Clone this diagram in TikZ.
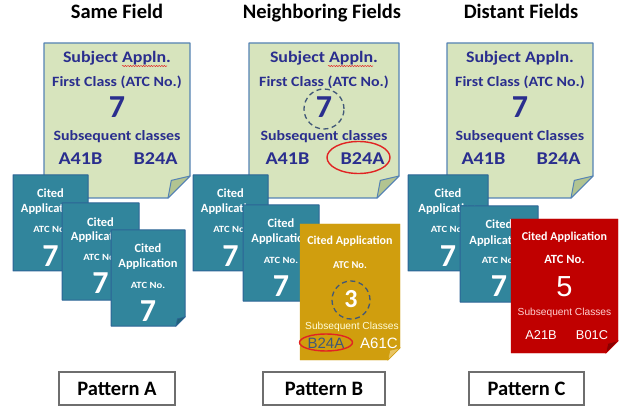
\documentclass[tikz,border=0pt]{standalone}
\usepackage{fontspec}
\setmainfont{Carlito}
\newfontfamily\widefont{Carlito}[FakeStretch=1.12]
\newfontfamily\arialfont{Liberation Sans}
\usetikzlibrary{shapes.geometric,decorations.pathmorphing}
\definecolor{subjfill}{RGB}{215,228,189}
\definecolor{subjline}{RGB}{84,130,180}
\definecolor{subjflap}{RGB}{178,196,145}
\definecolor{navy}{RGB}{42,46,142}
\definecolor{citefill}{RGB}{49,133,156}
\definecolor{citeline}{RGB}{44,100,150}
\definecolor{citeflap}{RGB}{32,98,122}
\definecolor{goldfill}{RGB}{208,158,14}
\definecolor{goldflap}{RGB}{232,196,100}
\definecolor{redfill}{RGB}{192,0,0}
\definecolor{redflap}{RGB}{135,0,0}
\definecolor{ringred}{RGB}{225,35,35}
\definecolor{ringblue}{RGB}{65,88,120}
\definecolor{boxline}{RGB}{110,110,110}
% sheet with a turned-down corner: x1,y1,x2,y2,fold,body,flap
\newcommand{\docsheet}[7]{%
  \draw[#6] (#1,#2) -- (#3,#2) -- (#3,#4-#5) -- (#3-#5,#4) -- (#1,#4) -- cycle;
  \draw[#7] (#3,#4-#5) -- (#3-0.85*#5,#4-0.8*#5) -- (#3-#5,#4) -- cycle;}
\begin{document}
\begin{tikzpicture}[x=1pt,y=-1pt,
  title/.style={font=\fontsize{20.5}{20.5}\selectfont\bfseries,anchor=base},
  subj/.style={fill=subjfill,draw=subjline,line width=1.3pt,line join=round},
  subj flap/.style={fill=subjflap,draw=subjline,line width=1pt,line join=round},
  subj head/.style={font=\widefont\fontsize{16}{16}\selectfont\bfseries,text=navy,anchor=base},
  subj line/.style={font=\widefont\fontsize{14.2}{14.2}\selectfont\bfseries,text=navy,anchor=base},
  subj num/.style={font=\fontsize{32}{32}\selectfont\bfseries,text=navy,anchor=base},
  subj code/.style={font=\widefont\fontsize{18}{18}\selectfont\bfseries,text=navy,anchor=base},
  cite/.style={fill=citefill,draw=citeline,line width=1pt,line join=round},
  cite flap/.style={fill=citeflap,draw=citeline,line width=0.6pt},
  gold/.style={fill=goldfill,draw=goldfill},
  gold flap/.style={fill=goldflap,draw=goldfill,line width=0.6pt},
  red/.style={fill=redfill,draw=redfill},
  red flap/.style={fill=redflap,draw=redfill,line width=0.6pt},
  cite word/.style={font=\fontsize{12.5}{12.5}\selectfont\bfseries,text=white,anchor=base},
  cite atc/.style={font=\widefont\fontsize{9.5}{9.5}\selectfont\bfseries,text=white,anchor=base},
  cite num/.style={font=\fontsize{32}{32}\selectfont\bfseries,text=white,anchor=base},
  thin sub/.style={font=\arialfont\fontsize{10.2}{10.2}\selectfont,text=white!85!yellow,anchor=base},
  thin code/.style={font=\arialfont\fontsize{12.8}{12.8}\selectfont,text=white,anchor=base},
  dash ring/.style={circle,draw=ringblue,dashed,dash pattern=on 5pt off 3.5pt,line width=1.3pt,inner sep=0pt},
  red ring/.style={ellipse,draw=ringred,line width=1.4pt,inner sep=0pt},
  typo/.style={draw=ringred,line width=0.5pt,decorate,decoration={snake,amplitude=0.6pt,segment length=2.6pt}},
  pattern box/.style={draw=boxline,line width=1.2pt,fill=white,minimum width=116pt,minimum height=33pt,
    inner sep=0pt,font=\fontsize{20.5}{20.5}\selectfont\bfseries}]
\useasboundingbox (0,0) rectangle (630,409);

% titles
\node[title] (tA) at (117,19) {Same Field};
\node[title] (tB) at (322,19) {Neighboring Fields};
\node[title] (tC) at (521,19) {Distant Fields};

% ---- Pattern A
\docsheet{44}{43}{190}{198}{22}{subj}{subj flap}
\node[subj head] (sA1) at (117,63) {Subject Appln.};
\node[subj line] (sA2) at (117,87) {First Class (ATC No.)};
\node[subj num] (sA3) at (117,118) {7};
\node[subj line] (sA4) at (117,141) {Subsequent classes};
\node[subj code] (sA5) at (80.5,165) {A41B};
\node[subj code] (sA6) at (155.5,165) {B24A};
\draw[typo] (122,66) -- (167,66);

\docsheet{13}{175}{88}{271}{9}{cite}{cite flap}
\node[cite word] (cA1a) at (50.5,198) {Cited};
\node[cite word] (cA1b) at (50.5,213) {Application};
\node[cite atc] (cA1c) at (50.5,233) {ATC No.};
\node[cite num] (cA1d) at (50.5,266) {7};
\docsheet{62}{203}{139}{300}{9}{cite}{cite flap}
\node[cite word] (cA2a) at (100.5,226) {Cited};
\node[cite word] (cA2b) at (100.5,241) {Application};
\node[cite atc] (cA2c) at (100.5,261) {ATC No.};
\node[cite num] (cA2d) at (100.5,294) {7};
\docsheet{111}{230}{185}{326}{9}{cite}{cite flap}
\node[cite word] (cA3a) at (148,253) {Cited};
\node[cite word] (cA3b) at (148,268) {Application};
\node[cite atc] (cA3c) at (148,288) {ATC No.};
\node[cite num] (cA3d) at (148,321) {7};

\node[pattern box] (pA) at (117,388.5) {Pattern A};

% ---- Pattern B
\docsheet{249}{43}{399}{198}{22}{subj}{subj flap}
\node[subj head] (sB1) at (324,63) {Subject Appln.};
\node[subj line] (sB2) at (324,87) {First Class (ATC No.)};
\node[subj num] (sB3) at (324,118) {7};
\node[subj line] (sB4) at (324,141) {Subsequent classes};
\node[subj code] (sB5) at (287.5,165) {A41B};
\node[subj code] (sB6) at (362.5,165) {B24A};
\draw[typo] (328,66) -- (373,66);
\node[dash ring,minimum size=40pt] (ringB7) at (324,109) {};
\node[red ring,minimum width=63pt,minimum height=32pt] (ringB6) at (358.5,157.5) {};

\docsheet{193}{175}{268}{271}{9}{cite}{cite flap}
\node[cite word] (cB1a) at (230.5,198) {Cited};
\node[cite word] (cB1b) at (230.5,213) {Application};
\node[cite atc] (cB1c) at (230.5,233) {ATC No.};
\node[cite num] (cB1d) at (230.5,266) {7};
\docsheet{243}{205}{319}{301}{9}{cite}{cite flap}
\node[cite word] (cB2a) at (281,228) {Cited};
\node[cite word] (cB2b) at (281,243) {Application};
\node[cite atc] (cB2c) at (281,263) {ATC No.};
\node[cite num] (cB2d) at (281,296) {7};
\docsheet{300}{224}{400}{360}{12}{gold}{gold flap}
\node[cite word,font=\fontsize{12}{12}\selectfont\bfseries] (gB1) at (350,245) {Cited Application};
\node[cite word,font=\fontsize{10.5}{10.5}\selectfont\bfseries] (gB2) at (350,269) {ATC No.};
\node[cite num,font=\fontsize{26}{26}\selectfont\bfseries] (gB3) at (351,308) {3};
\node[dash ring,minimum size=38pt] (ringB3) at (351,300) {};
\node[thin sub] (gB4) at (352,329) {Subsequent Classes};
\node[thin code,font=\arialfont\fontsize{15}{15}\selectfont,text=ringblue] (gB5) at (326,348) {B24A};
\node[thin code,font=\arialfont\fontsize{15}{15}\selectfont] (gB6) at (379,348) {A61C};
\node[red ring,minimum width=53pt,minimum height=17pt] (ringG5) at (326,342.5) {};

\node[pattern box,minimum width=122pt] (pB) at (324,388.5) {Pattern B};

% ---- Pattern C
\docsheet{447}{43}{593}{198}{22}{subj}{subj flap}
\node[subj head] (sC1) at (520,63) {Subject Appln.};
\node[subj line] (sC2) at (520,87) {First Class (ATC No.)};
\node[subj num] (sC3) at (520,118) {7};
\node[subj line] (sC4) at (520,141) {Subsequent Classes};
\node[subj code] (sC5) at (483.5,165) {A41B};
\node[subj code] (sC6) at (558.5,165) {B24A};

\docsheet{408}{175}{488}{271}{9}{cite}{cite flap}
\node[cite word] (cC1a) at (448,198) {Cited};
\node[cite word] (cC1b) at (448,213) {Application};
\node[cite atc] (cC1c) at (448,233) {ATC No.};
\node[cite num] (cC1d) at (448,266) {7};
\docsheet{460}{206}{538}{302}{9}{cite}{cite flap}
\node[cite word] (cC2a) at (499,229) {Cited};
\node[cite word] (cC2b) at (499,244) {Application};
\node[cite atc] (cC2c) at (499,264) {ATC No.};
\node[cite num] (cC2d) at (499,297) {7};
\docsheet{511}{219}{618}{353}{12}{red}{red flap}
\node[cite word,font=\fontsize{12}{12}\selectfont\bfseries] (rC1) at (564.5,241) {Cited Application};
\node[cite word,font=\fontsize{12.5}{12.5}\selectfont\bfseries] (rC2) at (564.5,263) {ATC No.};
\node[thin code,font=\arialfont\fontsize{29}{29}\selectfont] (rC3) at (564.5,297) {5};
\node[thin sub,text=white!82!red] (rC4) at (564.5,316) {Subsequent Classes};
\node[thin code] (rC5) at (541,339) {A21B};
\node[thin code] (rC6) at (592,339) {B01C};

\node[pattern box,minimum width=115pt] (pC) at (526.5,388.5) {Pattern C};
\end{tikzpicture}
\end{document}
